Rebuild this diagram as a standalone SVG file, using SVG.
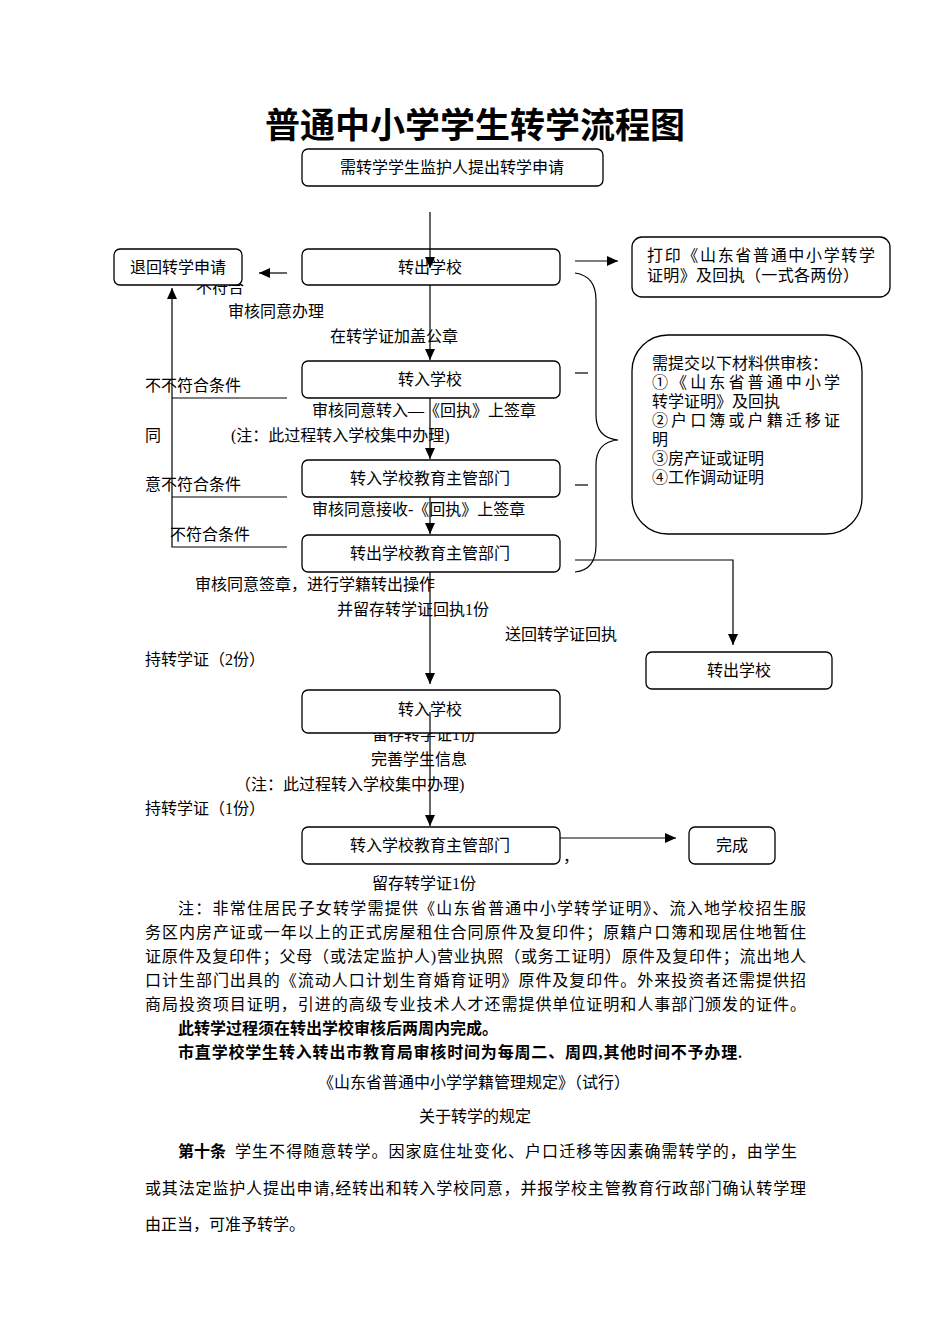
<svg xmlns="http://www.w3.org/2000/svg" width="950" height="1344" viewBox="0 0 950 1344">
<style>
text{font-family:"Liberation Serif","Noto Sans CJK SC",serif;font-size:16px;fill:#000}
.c{text-anchor:middle}
.t{font-family:"Noto Sans CJK SC",sans-serif;font-size:35px;font-weight:bold}
.b{font-weight:bold}
.box{fill:#fff;stroke:#000;stroke-width:1.3}
.ln{fill:none;stroke:#000;stroke-width:1.2}
</style>
<defs>
<marker id="ah" markerUnits="userSpaceOnUse" markerWidth="12" markerHeight="10" refX="11" refY="5" orient="auto">
<path d="M0,0 L11,5 L0,10 Z" fill="#000"/>
</marker>
</defs>
<rect width="950" height="1344" fill="#fff"/>
<text class="t c" x="475" y="138">普通中小学学生转学流程图</text>

<g id="labels">
<text x="196" y="293">不符合</text>
<text x="228" y="317">审核同意办理</text>
<text x="330" y="342">在转学证加盖公章</text>
<text x="145" y="391">不不符合条件</text>
<text x="312" y="416">审核同意转入—《回执》上签章</text>
<text x="145" y="441">同</text>
<text x="231" y="441">(注：此过程转入学校集中办理)</text>
<text x="145" y="490">意不符合条件</text>
<text x="312" y="515">审核同意接收-《回执》上签章</text>
<text x="170" y="540">不符合条件</text>
<text x="195" y="590">审核同意签章，进行学籍转出操作</text>
<text x="337" y="615">并留存转学证回执1份</text>
<text x="505" y="640">送回转学证回执</text>
<text x="145" y="665">持转学证（2份）</text>
<text x="372" y="740">留存转学证1份</text>
<text x="371" y="765">完善学生信息</text>
<text x="235" y="790">（注：此过程转入学校集中办理)</text>
<text x="145" y="814">持转学证（1份）</text>
<text x="563" y="862">，</text>
<text x="372" y="889">留存转学证1份</text>
</g>

<g id="n-apply"><rect class="box" x="302" y="149" width="301" height="37" rx="6"/><text class="c" x="452" y="173">需转学学生监护人提出转学申请</text></g>
<g id="n-out1"><rect class="box" x="302" y="249" width="258" height="36" rx="6"/><text class="c" x="430" y="273">转出学校</text></g>
<g id="n-return"><rect class="box" x="114" y="249" width="128" height="36" rx="6"/><text class="c" x="178" y="273">退回转学申请</text></g>
<g id="n-print"><rect class="box" x="632" y="237" width="258" height="60" rx="10"/><text x="647" y="261" textLength="228">打印《山东省普通中小学转学</text><text x="647" y="281" textLength="212">证明》及回执（一式各两份）</text></g>
<g id="n-in1"><rect class="box" x="302" y="361" width="258" height="37" rx="6"/><text class="c" x="430" y="385">转入学校</text></g>
<g id="n-indept1"><rect class="box" x="302" y="460" width="258" height="37" rx="6"/><text class="c" x="430" y="484">转入学校教育主管部门</text></g>
<g id="n-outdept"><rect class="box" x="302" y="535" width="258" height="37" rx="6"/><text class="c" x="430" y="559">转出学校教育主管部门</text></g>
<g id="n-materials"><rect class="box" x="632" y="335" width="230" height="199" rx="36"/>
<text x="652" y="369">需提交以下材料供审核：</text>
<text x="652" y="388" textLength="188">①《山东省普通中小学</text>
<text x="652" y="407">转学证明》及回执</text>
<text x="652" y="426" textLength="188">②户口簿或户籍迁移证</text>
<text x="652" y="445">明</text>
<text x="652" y="464">③房产证或证明</text>
<text x="652" y="483">④工作调动证明</text></g>
<g id="n-out2"><rect class="box" x="646" y="652" width="186" height="37" rx="6"/><text class="c" x="739" y="676">转出学校</text></g>
<g id="n-in2"><rect class="box" x="302" y="690" width="258" height="43" rx="6"/><text class="c" x="430" y="715">转入学校</text></g>
<g id="n-indept2"><rect class="box" x="302" y="827" width="258" height="37" rx="6"/><text class="c" x="430" y="851">转入学校教育主管部门</text></g>
<g id="n-done"><rect class="box" x="689" y="827" width="86" height="37" rx="6"/><text class="c" x="732" y="851">完成</text></g>

<g id="connectors">
<line class="ln" x1="430" y1="212" x2="430" y2="268" marker-end="url(#ah)"/>
<line class="ln" x1="287" y1="273" x2="259" y2="273" marker-end="url(#ah)"/>
<line class="ln" x1="575" y1="261" x2="618" y2="261" marker-end="url(#ah)"/>
<line class="ln" x1="430" y1="285" x2="430" y2="360" marker-end="url(#ah)"/>
<line class="ln" x1="430" y1="398" x2="430" y2="459" marker-end="url(#ah)"/>
<line class="ln" x1="430" y1="497" x2="430" y2="534" marker-end="url(#ah)"/>
<line class="ln" x1="430" y1="572" x2="430" y2="684" marker-end="url(#ah)"/>
<line class="ln" x1="430" y1="712" x2="430" y2="826" marker-end="url(#ah)"/>
<line class="ln" x1="560" y1="838" x2="676" y2="838" marker-end="url(#ah)"/>
<polyline class="ln" points="287,398 172,398"/>
<polyline class="ln" points="287,497 172,497"/>
<polyline class="ln" points="287,547 172,547 172,288" marker-end="url(#ah)"/>
<line class="ln" x1="575" y1="373" x2="588" y2="373"/>
<line class="ln" x1="575" y1="485" x2="588" y2="485"/>
<polyline class="ln" points="575,560 733,560 733,645" marker-end="url(#ah)"/>
<path class="ln" d="M575,273 Q596,276 596,300 L596,415 Q596,438 618,440 Q596,442 596,465 L596,545 Q596,570 575,572"/>
</g>

<g id="notes">
<text x="178" y="914" textLength="628">注：非常住居民子女转学需提供《山东省普通中小学转学证明》、流入地学校招生服</text>
<text x="145" y="938" textLength="661">务区内房产证或一年以上的正式房屋租住合同原件及复印件；原籍户口簿和现居住地暂住</text>
<text x="145" y="962" textLength="661">证原件及复印件；父母（或法定监护人)营业执照（或务工证明）原件及复印件；流出地人</text>
<text x="145" y="986" textLength="661">口计生部门出具的《流动人口计划生育婚育证明》原件及复印件。外来投资者还需提供招</text>
<text x="145" y="1010" textLength="661">商局投资项目证明，引进的高级专业技术人才还需提供单位证明和人事部门颁发的证件。</text>
<text class="b" x="178" y="1034">此转学过程须在转出学校审核后两周内完成。</text>
<text class="b" x="178" y="1058" textLength="564">市直学校学生转入转出市教育局审核时间为每周二、周四,其他时间不予办理.</text>
<text class="c" x="474" y="1088">《山东省普通中小学学籍管理规定》（试行）</text>
<text class="c" x="475" y="1122">关于转学的规定</text>
<text x="178" y="1157"><tspan class="b">第十条</tspan><tspan x="235" textLength="562">学生不得随意转学。因家庭住址变化、户口迁移等因素确需转学的，由学生</tspan></text>
<text x="145" y="1194" textLength="661">或其法定监护人提出申请,经转出和转入学校同意，并报学校主管教育行政部门确认转学理</text>
<text x="145" y="1230">由正当，可准予转学。</text>
</g>
</svg>
